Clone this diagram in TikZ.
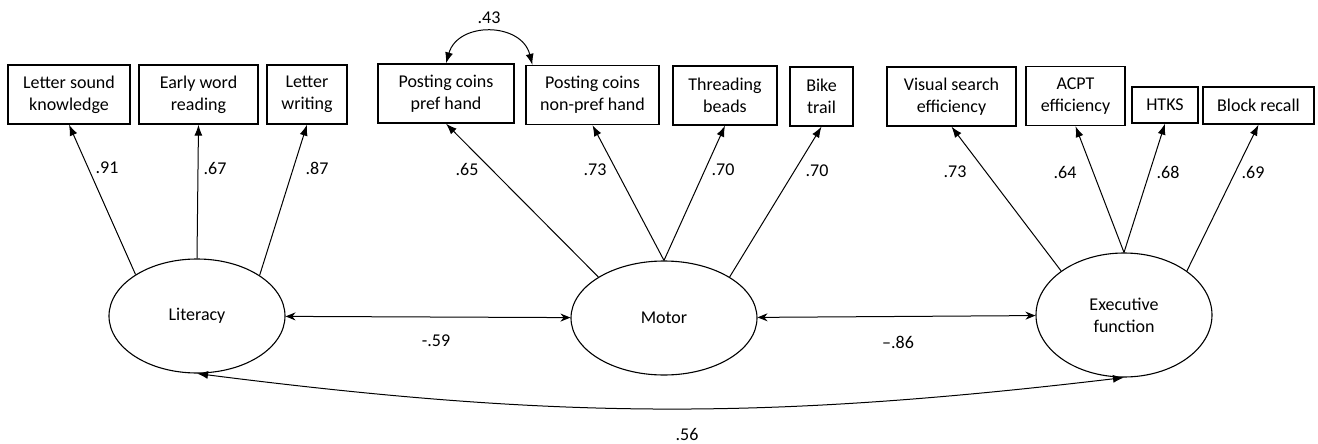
\documentclass[tikz,border=0pt]{standalone}
\usepackage{fontspec}
\setmainfont{Carlito}
\usetikzlibrary{shapes.geometric,arrows.meta}

\begin{document}
\begin{tikzpicture}[x=1pt,y=-1pt,
    font=\fontsize{18}{22}\selectfont,
    obs/.style={draw, line width=1.3pt, align=center, inner sep=0pt, minimum height=59pt},
    latent/.style={ellipse, draw, line width=1.1pt, align=center, inner sep=0pt},
    load/.style={-{Latex[length=11pt,width=8pt]}, line width=1pt},
    cov/.style={{Stealth[length=10pt,width=8pt]}-{Stealth[length=10pt,width=8pt]}, line width=1pt},
    curvcov/.style={{Latex[length=11pt,width=8pt]}-{Latex[length=11pt,width=8pt]}, line width=1pt}]
    \useasboundingbox (0,0) rectangle (1318,444);
    % observed measures
    \node[obs, minimum width=122pt] (lsk) at (69,94.5) {Letter sound\\knowledge};
    \node[obs, minimum width=119pt] (ewr) at (198.5,94.5) {Early word\\reading};
    \node[obs, minimum width=80pt] (lwr) at (307,94.5) {Letter\\writing};
    \node[obs, minimum width=136pt] (pcp) at (446,93.5) {Posting coins\\pref hand};
    \node[obs, minimum width=133pt] (pcn) at (592.5,95) {Posting coins\\non-pref hand};
    \node[obs, minimum width=104pt] (thb) at (725,95.5) {Threading\\beads};
    \node[obs, minimum width=63pt] (bkt) at (821.5,96.5) {Bike\\trail};
    \node[obs, minimum width=129pt] (vse) at (951.5,96.5) {Visual search\\efficiency};
    \node[obs, minimum width=99pt] (acp) at (1075.5,96) {ACPT\\efficiency};
    \node[obs, minimum width=66pt, minimum height=36pt] (htk) at (1165,105) {HTKS};
    \node[obs, minimum width=111pt, minimum height=37pt] (blr) at (1258.5,105.5) {Block recall};
    % latent factors
    \node[latent, minimum width=176pt, minimum height=114pt] (lit) at (197,316) {Literacy};
    \node[latent, minimum width=186pt, minimum height=114pt] (mot) at (664,318) {Motor};
    \node[latent, minimum width=176pt, minimum height=124pt] (exf) at (1124,315) {Executive\\function};
    % loadings
    \draw[load] (lit.146) -- (lsk.south);
    \draw[load] (lit.90) -- (ewr.south);
    \draw[load] (lit.33) -- (lwr.south);
    \draw[load] (mot.148) -- (pcp.south);
    \draw[load] (mot.90) -- (pcn.south);
    \draw[load] (mot.90) -- (thb.south);
    \draw[load] (mot.32) -- (bkt.south);
    \draw[load] (exf.145) -- (vse.south);
    \draw[load] (exf.90) -- (acp.south);
    \draw[load] (exf.90) -- (htk.south);
    \draw[load] (exf.35) -- (blr.south);
    \node (l91) at (107,168) {.91};
    \node (l67) at (215,168) {.67};
    \node (l87) at (317,168) {.87};
    \node (l65) at (467,169) {.65};
    \node (l73m) at (595,170) {.73};
    \node (l70t) at (723,170) {.70};
    \node (l70b) at (817,171) {.70};
    \node (l73e) at (955,172) {.73};
    \node (l64) at (1065,172) {.64};
    \node (l68) at (1168,172) {.68};
    \node (l69) at (1253,172) {.69};
    % correlations
    \draw[curvcov] (pcp.north) to[bend left=75, looseness=1.3] ([xshift=7pt]pcn.north west);
    \node (c43) at (489,18) {.43};
    \draw[cov] (lit) -- (mot);
    \node (c59) at (436,341) {-.59};
    \draw[cov] (mot) -- (exf);
    \node (c86) at (898,342) {–.86};
    \draw[curvcov] (lit.south) to[bend right=7] (exf.south);
    \node (c56) at (687,434) {.56};
\end{tikzpicture}
\end{document}
